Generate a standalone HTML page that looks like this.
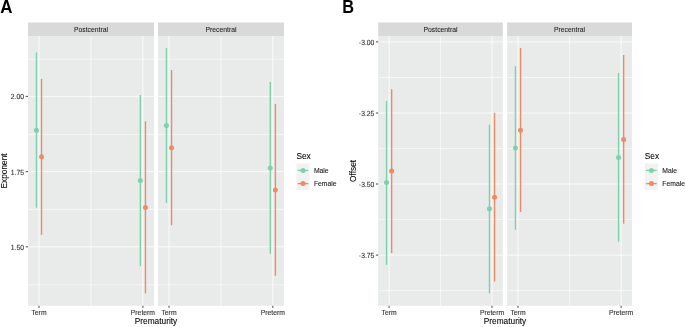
<!DOCTYPE html>
<html><head><meta charset="utf-8"><style>
html,body{margin:0;padding:0;background:#fff;}
body{width:685px;height:327px;overflow:hidden;}
svg{display:block;will-change:transform;}
text{font-family:"Liberation Sans",sans-serif;}
.sm{font-size:6.8px;}
.lg{font-size:8.3px;fill:#000;stroke:#000;stroke-width:0.08px;}
.ax{fill:#333;stroke:#333;stroke-width:0.12px;}
.strip{fill:#1A1A1A;stroke:#1A1A1A;stroke-width:0.06px;}
.leg{fill:#1a1a1a;stroke:#1a1a1a;stroke-width:0.1px;}
.tag{font-size:17.8px;font-weight:bold;fill:#000;}
</style></head><body>
<svg width="685" height="327" viewBox="0 0 685 327">
<rect width="685" height="327" fill="#fff"/>
<rect x="28" y="22.5" width="126.00" height="13.50" fill="#D9D9D9"/>
<text x="91.00" y="31.7" class="sm strip" text-anchor="middle">Postcentral</text>
<rect x="28" y="36" width="126.00" height="269.80" fill="#E9EBEA"/>
<line x1="28" x2="154" y1="59.3" y2="59.3" stroke="#fff" stroke-width="0.55"/>
<line x1="28" x2="154" y1="134.4" y2="134.4" stroke="#fff" stroke-width="0.55"/>
<line x1="28" x2="154" y1="209.5" y2="209.5" stroke="#fff" stroke-width="0.55"/>
<line x1="28" x2="154" y1="284.8" y2="284.8" stroke="#fff" stroke-width="0.55"/>
<line x1="90.95" x2="90.95" y1="36" y2="305.8" stroke="#fff" stroke-width="0.55"/>
<line x1="28" x2="154" y1="96.4" y2="96.4" stroke="#fff" stroke-width="0.75"/>
<line x1="28" x2="154" y1="171.6" y2="171.6" stroke="#fff" stroke-width="0.75"/>
<line x1="28" x2="154" y1="246.8" y2="246.8" stroke="#fff" stroke-width="0.75"/>
<line x1="39.0" x2="39.0" y1="36" y2="305.8" stroke="#fff" stroke-width="0.75"/>
<line x1="142.9" x2="142.9" y1="36" y2="305.8" stroke="#fff" stroke-width="0.75"/>
<line x1="36.45" x2="36.45" y1="52.4" y2="207.7" stroke="#7CD2AC" stroke-width="1.4"/>
<circle cx="36.45" cy="130.2" r="2.5" fill="#7CD2AC"/>
<line x1="41.55" x2="41.55" y1="78.8" y2="234.8" stroke="#EF8A63" stroke-width="1.4"/>
<circle cx="41.55" cy="156.8" r="2.5" fill="#EF8A63"/>
<line x1="140.35" x2="140.35" y1="95.0" y2="266.1" stroke="#7CD2AC" stroke-width="1.4"/>
<circle cx="140.35" cy="180.6" r="2.5" fill="#7CD2AC"/>
<line x1="145.45" x2="145.45" y1="121.3" y2="293.3" stroke="#EF8A63" stroke-width="1.4"/>
<circle cx="145.45" cy="207.4" r="2.5" fill="#EF8A63"/>
<line x1="39.0" x2="39.0" y1="305.8" y2="307.90" stroke="#333" stroke-width="0.9"/>
<text x="39.0" y="314.8" class="sm ax" text-anchor="middle">Term</text>
<line x1="142.9" x2="142.9" y1="305.8" y2="307.90" stroke="#333" stroke-width="0.9"/>
<text x="142.9" y="314.8" class="sm ax" text-anchor="middle">Preterm</text>
<rect x="158" y="22.5" width="126.00" height="13.50" fill="#D9D9D9"/>
<text x="221.00" y="31.7" class="sm strip" text-anchor="middle">Precentral</text>
<rect x="158" y="36" width="126.00" height="269.80" fill="#E9EBEA"/>
<line x1="158" x2="284" y1="59.3" y2="59.3" stroke="#fff" stroke-width="0.55"/>
<line x1="158" x2="284" y1="134.4" y2="134.4" stroke="#fff" stroke-width="0.55"/>
<line x1="158" x2="284" y1="209.5" y2="209.5" stroke="#fff" stroke-width="0.55"/>
<line x1="158" x2="284" y1="284.8" y2="284.8" stroke="#fff" stroke-width="0.55"/>
<line x1="220.93" x2="220.93" y1="36" y2="305.8" stroke="#fff" stroke-width="0.55"/>
<line x1="158" x2="284" y1="96.4" y2="96.4" stroke="#fff" stroke-width="0.75"/>
<line x1="158" x2="284" y1="171.6" y2="171.6" stroke="#fff" stroke-width="0.75"/>
<line x1="158" x2="284" y1="246.8" y2="246.8" stroke="#fff" stroke-width="0.75"/>
<line x1="169.0" x2="169.0" y1="36" y2="305.8" stroke="#fff" stroke-width="0.75"/>
<line x1="272.85" x2="272.85" y1="36" y2="305.8" stroke="#fff" stroke-width="0.75"/>
<line x1="166.45" x2="166.45" y1="47.9" y2="202.9" stroke="#7CD2AC" stroke-width="1.4"/>
<circle cx="166.45" cy="125.6" r="2.5" fill="#7CD2AC"/>
<line x1="171.55" x2="171.55" y1="70.0" y2="225.3" stroke="#EF8A63" stroke-width="1.4"/>
<circle cx="171.55" cy="147.7" r="2.5" fill="#EF8A63"/>
<line x1="270.30" x2="270.30" y1="81.9" y2="253.7" stroke="#7CD2AC" stroke-width="1.4"/>
<circle cx="270.30" cy="168.0" r="2.5" fill="#7CD2AC"/>
<line x1="275.40" x2="275.40" y1="103.9" y2="275.8" stroke="#EF8A63" stroke-width="1.4"/>
<circle cx="275.40" cy="190.0" r="2.5" fill="#EF8A63"/>
<line x1="169.0" x2="169.0" y1="305.8" y2="307.90" stroke="#333" stroke-width="0.9"/>
<text x="169.0" y="314.8" class="sm ax" text-anchor="middle">Term</text>
<line x1="272.85" x2="272.85" y1="305.8" y2="307.90" stroke="#333" stroke-width="0.9"/>
<text x="272.85" y="314.8" class="sm ax" text-anchor="middle">Preterm</text>
<line x1="25.70" x2="28" y1="96.4" y2="96.4" stroke="#333" stroke-width="0.9"/>
<text transform="translate(24.0,99.30) scale(0.91,1)" class="ax" style="font-size:7.45px;text-rendering:geometricPrecision" text-anchor="end">2.00</text>
<line x1="25.70" x2="28" y1="171.6" y2="171.6" stroke="#333" stroke-width="0.9"/>
<text transform="translate(24.0,174.50) scale(0.91,1)" class="ax" style="font-size:7.45px;text-rendering:geometricPrecision" text-anchor="end">1.75</text>
<line x1="25.70" x2="28" y1="246.8" y2="246.8" stroke="#333" stroke-width="0.9"/>
<text transform="translate(24.0,249.70) scale(0.91,1)" class="ax" style="font-size:7.45px;text-rendering:geometricPrecision" text-anchor="end">1.50</text>
<text transform="translate(7.0,170.90) rotate(-90)" class="lg" text-anchor="middle">Exponent</text>
<text x="156.00" y="324.4" class="lg" text-anchor="middle">Prematurity</text>
<text x="296.4" y="158.7" class="lg">Sex</text>
<rect x="296.4" y="163.4" width="13.1" height="26.5" fill="#F2F2F2"/>
<line x1="297.70" x2="308.30" y1="170.4" y2="170.4" stroke="#7CD2AC" stroke-width="1.4"/>
<circle cx="303.05" cy="170.4" r="2.5" fill="#7CD2AC"/>
<text x="313.90" y="172.8" class="sm leg">Male</text>
<line x1="297.70" x2="308.30" y1="183.6" y2="183.6" stroke="#EF8A63" stroke-width="1.4"/>
<circle cx="303.05" cy="183.6" r="2.5" fill="#EF8A63"/>
<text x="313.90" y="186.1" class="sm leg">Female</text>
<text transform="translate(0.3,12.7) scale(0.95,1)" class="tag">A</text>
<rect x="378.2" y="22.5" width="124.70" height="13.50" fill="#D9D9D9"/>
<text x="440.55" y="31.7" class="sm strip" text-anchor="middle">Postcentral</text>
<rect x="378.2" y="36" width="124.70" height="269.80" fill="#E9EBEA"/>
<line x1="378.2" x2="502.9" y1="77.45" y2="77.45" stroke="#fff" stroke-width="0.55"/>
<line x1="378.2" x2="502.9" y1="148.5" y2="148.5" stroke="#fff" stroke-width="0.55"/>
<line x1="378.2" x2="502.9" y1="219.55" y2="219.55" stroke="#fff" stroke-width="0.55"/>
<line x1="378.2" x2="502.9" y1="290.65" y2="290.65" stroke="#fff" stroke-width="0.55"/>
<line x1="440.55" x2="440.55" y1="36" y2="305.8" stroke="#fff" stroke-width="0.55"/>
<line x1="378.2" x2="502.9" y1="41.9" y2="41.9" stroke="#fff" stroke-width="0.75"/>
<line x1="378.2" x2="502.9" y1="113.0" y2="113.0" stroke="#fff" stroke-width="0.75"/>
<line x1="378.2" x2="502.9" y1="184.0" y2="184.0" stroke="#fff" stroke-width="0.75"/>
<line x1="378.2" x2="502.9" y1="255.1" y2="255.1" stroke="#fff" stroke-width="0.75"/>
<line x1="389.1" x2="389.1" y1="36" y2="305.8" stroke="#fff" stroke-width="0.75"/>
<line x1="492.0" x2="492.0" y1="36" y2="305.8" stroke="#fff" stroke-width="0.75"/>
<line x1="386.55" x2="386.55" y1="101.0" y2="264.9" stroke="#7CD2AC" stroke-width="1.4"/>
<circle cx="386.55" cy="182.6" r="2.5" fill="#7CD2AC"/>
<line x1="391.65" x2="391.65" y1="89.2" y2="253.1" stroke="#EF8A63" stroke-width="1.4"/>
<circle cx="391.65" cy="171.1" r="2.5" fill="#EF8A63"/>
<line x1="489.45" x2="489.45" y1="124.5" y2="293.3" stroke="#7CD2AC" stroke-width="1.4"/>
<circle cx="489.45" cy="208.8" r="2.5" fill="#7CD2AC"/>
<line x1="494.55" x2="494.55" y1="112.8" y2="281.5" stroke="#EF8A63" stroke-width="1.4"/>
<circle cx="494.55" cy="197.3" r="2.5" fill="#EF8A63"/>
<line x1="389.1" x2="389.1" y1="305.8" y2="307.90" stroke="#333" stroke-width="0.9"/>
<text x="389.1" y="314.8" class="sm ax" text-anchor="middle">Term</text>
<line x1="492.0" x2="492.0" y1="305.8" y2="307.90" stroke="#333" stroke-width="0.9"/>
<text x="492.0" y="314.8" class="sm ax" text-anchor="middle">Preterm</text>
<rect x="507.1" y="22.5" width="124.90" height="13.50" fill="#D9D9D9"/>
<text x="569.55" y="31.7" class="sm strip" text-anchor="middle">Precentral</text>
<rect x="507.1" y="36" width="124.90" height="269.80" fill="#E9EBEA"/>
<line x1="507.1" x2="632.0" y1="77.45" y2="77.45" stroke="#fff" stroke-width="0.55"/>
<line x1="507.1" x2="632.0" y1="148.5" y2="148.5" stroke="#fff" stroke-width="0.55"/>
<line x1="507.1" x2="632.0" y1="219.55" y2="219.55" stroke="#fff" stroke-width="0.55"/>
<line x1="507.1" x2="632.0" y1="290.65" y2="290.65" stroke="#fff" stroke-width="0.55"/>
<line x1="569.55" x2="569.55" y1="36" y2="305.8" stroke="#fff" stroke-width="0.55"/>
<line x1="507.1" x2="632.0" y1="41.9" y2="41.9" stroke="#fff" stroke-width="0.75"/>
<line x1="507.1" x2="632.0" y1="113.0" y2="113.0" stroke="#fff" stroke-width="0.75"/>
<line x1="507.1" x2="632.0" y1="184.0" y2="184.0" stroke="#fff" stroke-width="0.75"/>
<line x1="507.1" x2="632.0" y1="255.1" y2="255.1" stroke="#fff" stroke-width="0.75"/>
<line x1="518.0" x2="518.0" y1="36" y2="305.8" stroke="#fff" stroke-width="0.75"/>
<line x1="621.1" x2="621.1" y1="36" y2="305.8" stroke="#fff" stroke-width="0.75"/>
<line x1="515.45" x2="515.45" y1="66.2" y2="229.8" stroke="#7CD2AC" stroke-width="1.4"/>
<circle cx="515.45" cy="147.9" r="2.5" fill="#7CD2AC"/>
<line x1="520.55" x2="520.55" y1="47.9" y2="211.9" stroke="#EF8A63" stroke-width="1.4"/>
<circle cx="520.55" cy="130.3" r="2.5" fill="#EF8A63"/>
<line x1="618.55" x2="618.55" y1="72.9" y2="241.7" stroke="#7CD2AC" stroke-width="1.4"/>
<circle cx="618.55" cy="157.5" r="2.5" fill="#7CD2AC"/>
<line x1="623.65" x2="623.65" y1="55.0" y2="223.7" stroke="#EF8A63" stroke-width="1.4"/>
<circle cx="623.65" cy="139.4" r="2.5" fill="#EF8A63"/>
<line x1="518.0" x2="518.0" y1="305.8" y2="307.90" stroke="#333" stroke-width="0.9"/>
<text x="518.0" y="314.8" class="sm ax" text-anchor="middle">Term</text>
<line x1="621.1" x2="621.1" y1="305.8" y2="307.90" stroke="#333" stroke-width="0.9"/>
<text x="621.1" y="314.8" class="sm ax" text-anchor="middle">Preterm</text>
<line x1="375.90" x2="378.2" y1="41.9" y2="41.9" stroke="#333" stroke-width="0.9"/>
<text transform="translate(374.3,44.80) scale(0.91,1)" class="ax" style="font-size:7.45px;text-rendering:geometricPrecision" text-anchor="end">-3.00</text>
<line x1="375.90" x2="378.2" y1="113.0" y2="113.0" stroke="#333" stroke-width="0.9"/>
<text transform="translate(374.3,115.90) scale(0.91,1)" class="ax" style="font-size:7.45px;text-rendering:geometricPrecision" text-anchor="end">-3.25</text>
<line x1="375.90" x2="378.2" y1="184.0" y2="184.0" stroke="#333" stroke-width="0.9"/>
<text transform="translate(374.3,186.90) scale(0.91,1)" class="ax" style="font-size:7.45px;text-rendering:geometricPrecision" text-anchor="end">-3.50</text>
<line x1="375.90" x2="378.2" y1="255.1" y2="255.1" stroke="#333" stroke-width="0.9"/>
<text transform="translate(374.3,258.00) scale(0.91,1)" class="ax" style="font-size:7.45px;text-rendering:geometricPrecision" text-anchor="end">-3.75</text>
<text transform="translate(356.0,170.90) rotate(-90)" class="lg" text-anchor="middle">Offset</text>
<text x="505.00" y="324.4" class="lg" text-anchor="middle">Prematurity</text>
<text x="644.8" y="158.7" class="lg">Sex</text>
<rect x="644.8" y="163.4" width="13.1" height="26.5" fill="#F2F2F2"/>
<line x1="646.10" x2="656.70" y1="170.4" y2="170.4" stroke="#7CD2AC" stroke-width="1.4"/>
<circle cx="651.45" cy="170.4" r="2.5" fill="#7CD2AC"/>
<text x="662.30" y="172.8" class="sm leg">Male</text>
<line x1="646.10" x2="656.70" y1="183.6" y2="183.6" stroke="#EF8A63" stroke-width="1.4"/>
<circle cx="651.45" cy="183.6" r="2.5" fill="#EF8A63"/>
<text x="662.30" y="186.1" class="sm leg">Female</text>
<text transform="translate(342.3,12.7) scale(0.92,1)" class="tag">B</text>
</svg>
</body></html>
